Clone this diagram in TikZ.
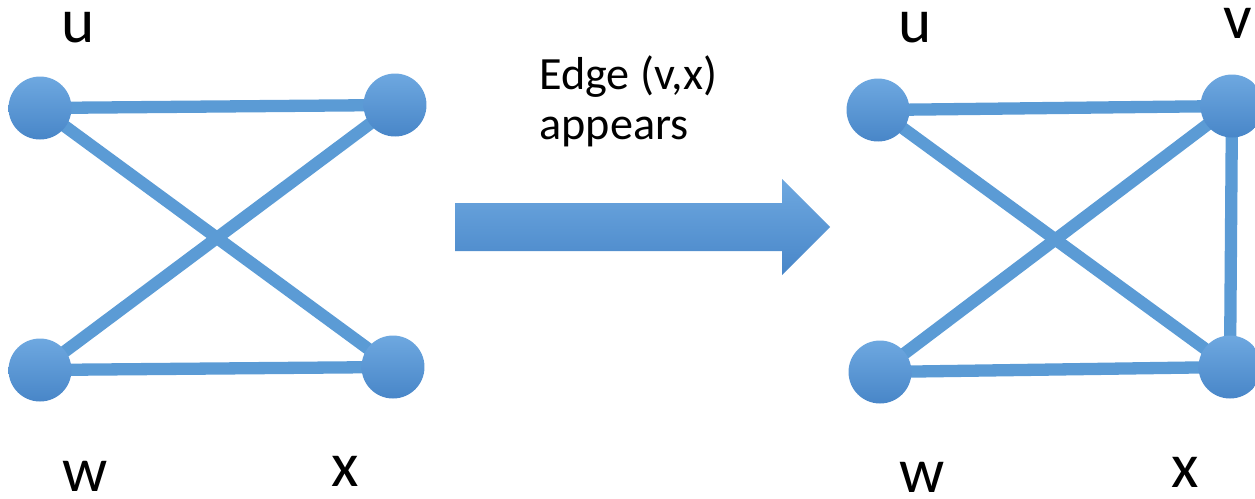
\documentclass[tikz,border=0pt]{standalone}
\usepackage{fontspec}
\setmainfont{Carlito}
\usetikzlibrary{positioning,backgrounds}

\definecolor{officeblue}{RGB}{91,155,213}
\definecolor{vtop}{RGB}{110,168,224}
\definecolor{vbot}{RGB}{72,134,200}

\begin{document}
\begin{tikzpicture}[x=0.02cm, y=-0.02cm]
\tikzset{
  vertex/.style={circle, inner sep=0pt, minimum size=1.26cm, top color=vtop, bottom color=vbot, draw=none},
  link/.style={draw=officeblue, line width=7pt},
  vname/.style={font=\fontsize{36}{40}\selectfont, inner sep=0pt},
  caption/.style={font=\fontsize{26.3}{28.5}\selectfont, align=left, inner sep=0pt, anchor=west}
}
\useasboundingbox (0,0) rectangle (1255,498);

% graph before the change
\node[vertex] (u1) at (40,108) {};
\node[vertex] (v1) at (395,105) {};
\node[vertex] (w1) at (40,370) {};
\node[vertex] (x1) at (393,367) {};
\node[vname] (lu1) at (78,28) {u};
\node[vname] (lw1) at (85,476) {w};
\node[vname] (lx1) at (345,471) {x};

% graph after the change
\node[vertex] (u2) at (878,110) {};
\node[vertex] (v2) at (1232,106) {};
\node[vertex] (w2) at (880,372) {};
\node[vertex] (x2) at (1230,367) {};
\node[vname] (lu2) at (915,28) {u};
\node[vname] (lv2) at (1238,23) {v};
\node[vname] (lw2) at (922,477) {w};
\node[vname] (lx2) at (1185,472) {x};

\begin{scope}[on background layer]
\draw[link] (u1.center) -- (v1.center);
\draw[link] (u1.center) -- (x1.center);
\draw[link] (w1.center) -- (v1.center);
\draw[link] (w1.center) -- (x1.center);

\draw[link] (u2.center) -- (v2.center);
\draw[link] (u2.center) -- (x2.center);
\draw[link] (w2.center) -- (v2.center);
\draw[link] (w2.center) -- (x2.center);
\draw[link] (v2.center) -- (x2.center);
\end{scope}

% big arrow in the middle
\shade[top color=vtop, bottom color=vbot]
  (455,203) -- (782,203) -- (782,179) -- (830,227) -- (782,275) -- (782,251) -- (455,251) -- cycle;
\node[caption] (cap) at (539,101) {Edge (v,x)\\appears};
\end{tikzpicture}
\end{document}
